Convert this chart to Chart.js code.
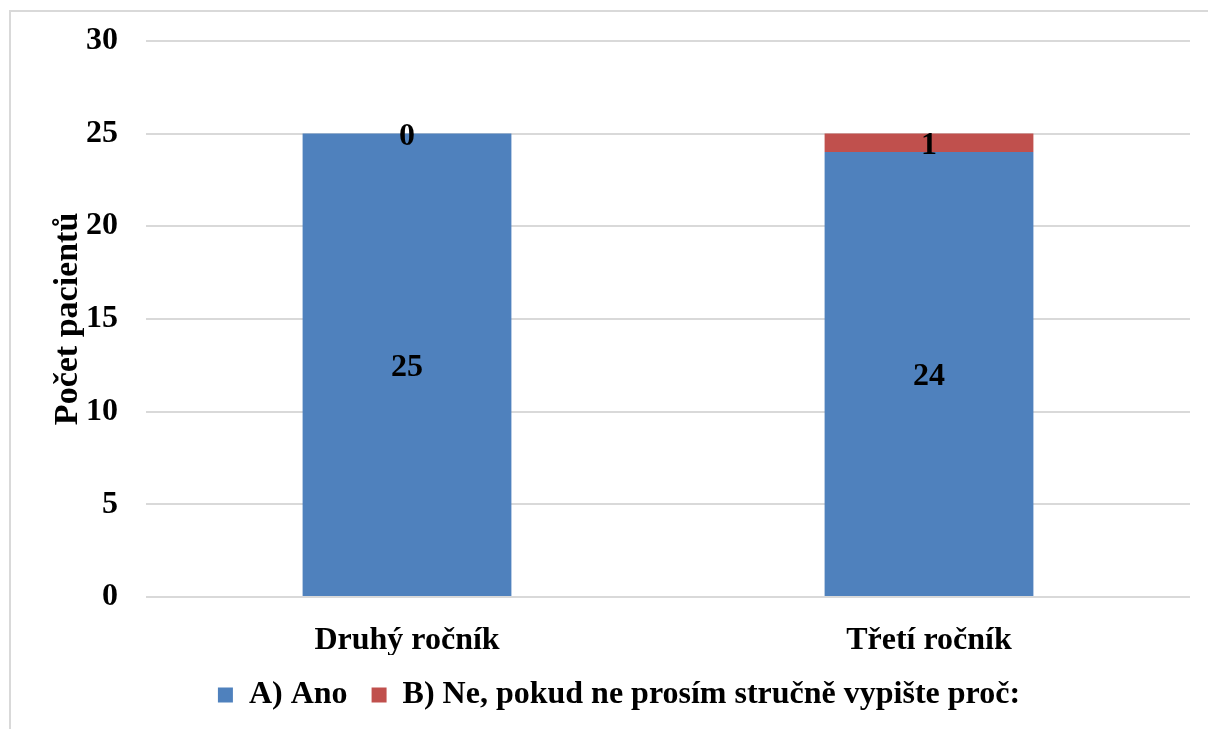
<!DOCTYPE html>
<html>
<head>
<meta charset="utf-8">
<script src="https://cdn.jsdelivr.net/npm/chart.js@4"></script>
<style>
  body { margin: 0; background: #fff; }
  .frame { position: absolute; left: 9px; top: 10px; width: 1300px; height: 800px;
           border-left: 2px solid #d9d9d9; border-top: 2px solid #d9d9d9; }
  #wrap { position: absolute; left: 0; top: 0; width: 1208px; height: 729px; }
</style>
</head>
<body>
<div class="frame"></div>
<div id="wrap"><canvas id="chart"></canvas></div>
<script>
const categories = ['Druhý ročník', 'Třetí ročník'];
const ano = [25, 24];
const ne = [0, 1];
const yTicks = [0, 5, 10, 15, 20, 25, 30];

const FONT = '"Liberation Serif", "Times New Roman", serif';

// draw value labels in the middle of each bar segment
const segmentLabels = {
  id: 'segmentLabels',
  afterDatasetsDraw(chart) {
    const ctx = chart.ctx;
    ctx.save();
    ctx.font = 'bold 32px ' + FONT;
    ctx.fillStyle = '#000';
    ctx.textAlign = 'center';
    ctx.textBaseline = 'middle';
    chart.data.datasets.forEach((ds, i) => {
      chart.getDatasetMeta(i).data.forEach((bar, j) => {
        const p = bar.getProps(['x', 'y', 'base'], true);
        ctx.fillText(String(ds.data[j]), p.x, (p.y + p.base) / 2 + 3);
      });
    });
    ctx.restore();
  }
};

new Chart(document.getElementById('chart'), {
  type: 'bar',
  data: {
    labels: categories,
    datasets: [
      { label: 'A) Ano', data: ano, backgroundColor: '#4f81bd', categoryPercentage: 1, barPercentage: 0.4 },
      { label: 'B) Ne, pokud ne prosím stručně vypište proč:', data: ne, backgroundColor: '#c0504d', categoryPercentage: 1, barPercentage: 0.4 }
    ]
  },
  options: {
    responsive: true,
    maintainAspectRatio: false,
    animation: false,
    layout: { padding: { top: 20, right: 18, left: 48, bottom: 8 } },
    plugins: {
      legend: {
        position: 'bottom',
        labels: {
          color: '#000',
          font: { family: FONT, size: 32, weight: 'bold' },
          boxWidth: 15, boxHeight: 15, padding: 24
        }
      },
      tooltip: { enabled: false }
    },
    scales: {
      x: {
        stacked: true,
        afterFit(scale) { scale.height = 58; },
        grid: { display: false },
        border: { display: false },
        ticks: { color: '#000', font: { family: FONT, size: 32, weight: 'bold' }, padding: 17 }
      },
      y: {
        stacked: true,
        min: 0, max: 30,
        afterFit(scale) { scale.width = 98; },
        afterBuildTicks(scale) { scale.ticks = yTicks.map(v => ({ value: v })); },
        grid: { color: '#d9d9d9', lineWidth: 2, drawTicks: false },
        border: { display: false },
        ticks: { color: '#000', font: { family: FONT, size: 32, weight: 'bold', lineHeight: 0.8 }, padding: 28 },
        title: {
          display: true,
          text: 'Počet pacientů',
          color: '#000',
          font: { family: FONT, size: 34, weight: 'bold' },
          padding: { top: 0, bottom: 0 }
        }
      }
    }
  },
  plugins: [segmentLabels]
});
</script>
</body>
</html>
